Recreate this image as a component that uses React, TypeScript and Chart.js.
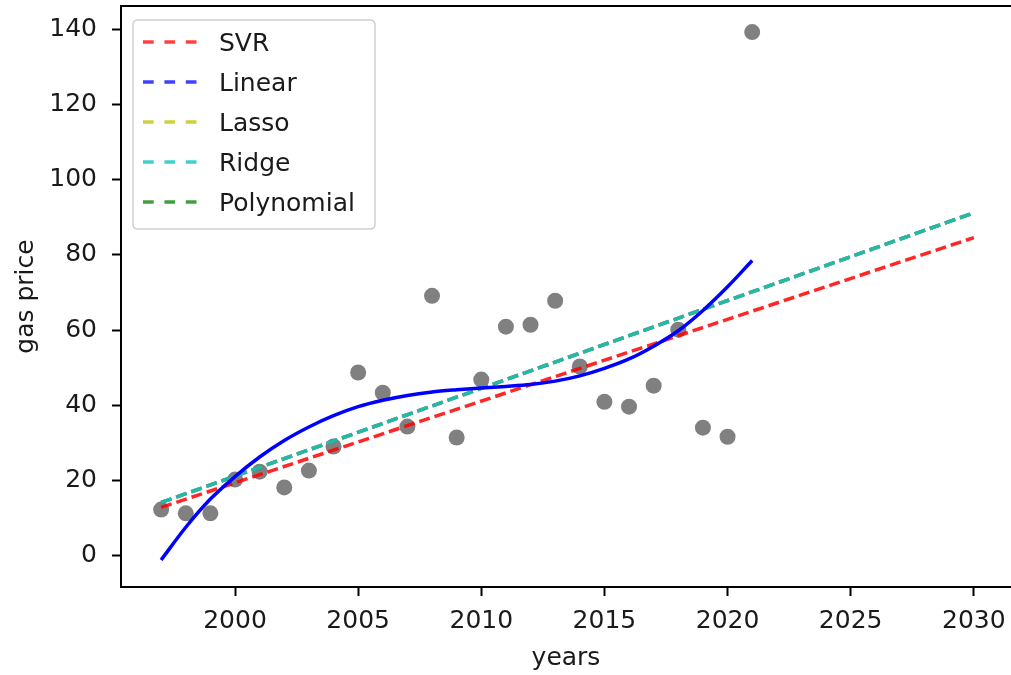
import React, { useEffect, useRef } from "react";
import { Chart, registerables } from "chart.js";

Chart.register(...registerables);

const years = [1997, 1998, 1999, 2000, 2001, 2002, 2003, 2004, 2005, 2006, 2007, 2008, 2009, 2010, 2011, 2012, 2013, 2014, 2015, 2016, 2017, 2018, 2019, 2020, 2021];
const gasPrice = [12.2, 11.2, 11.2, 20.2, 22.3, 18.1, 22.6, 29.0, 48.7, 43.3, 34.3, 69.1, 31.4, 46.8, 60.9, 61.4, 67.8, 50.3, 40.9, 39.6, 45.2, 60.1, 34.0, 31.6, 139.3];
const polyCurve = [-1.2, 7.5, 15.0, 21.0, 26.2, 30.6, 34.2, 37.2, 39.6, 41.3, 42.6, 43.5, 44.1, 44.6, 45.0, 45.5, 46.4, 47.8, 49.8, 52.3, 55.7, 59.8, 65.2, 71.5, 78.5];
const predYears = [1997, 2030];
const svrPred = [12.8, 84.6];
const linearPred = [14.1, 91.2];
const lassoPred = [14.1, 91.2];
const ridgePred = [14.1, 91.2];
const polyPred: number[] = [];
const xTicks = [2000, 2005, 2010, 2015, 2020, 2025, 2030];
const yTicks = [0, 20, 40, 60, 80, 100, 120, 140];

const legendItems = [
  { label: "SVR", color: "rgba(255,0,0,0.75)" },
  { label: "Linear", color: "rgba(0,0,255,0.75)" },
  { label: "Lasso", color: "rgba(191,191,0,0.75)" },
  { label: "Ridge", color: "rgba(0,191,191,0.75)" },
  { label: "Polynomial", color: "rgba(0,128,0,0.75)" },
];

const FONT = "'DejaVu Sans', sans-serif";

const pts = (xs: number[], ys: number[]) => ys.map((y, i) => ({ x: xs[i], y }));

const framePlugin = {
  id: "frameAndLegend",
  afterDraw(chart: any) {
    const { ctx, chartArea } = chart;
    ctx.save();
    ctx.strokeStyle = "#000";
    ctx.lineWidth = 2;
    ctx.beginPath();
    ctx.moveTo(chartArea.left - 1, chartArea.top);
    ctx.lineTo(chartArea.right, chartArea.top);
    ctx.stroke();
    const lx = chartArea.left + 12;
    const ly = chartArea.top + 14;
    const lw = 242;
    const lh = 209;
    const r = 5;
    ctx.beginPath();
    ctx.moveTo(lx + r, ly);
    ctx.lineTo(lx + lw - r, ly);
    ctx.quadraticCurveTo(lx + lw, ly, lx + lw, ly + r);
    ctx.lineTo(lx + lw, ly + lh - r);
    ctx.quadraticCurveTo(lx + lw, ly + lh, lx + lw - r, ly + lh);
    ctx.lineTo(lx + r, ly + lh);
    ctx.quadraticCurveTo(lx, ly + lh, lx, ly + lh - r);
    ctx.lineTo(lx, ly + r);
    ctx.quadraticCurveTo(lx, ly, lx + r, ly);
    ctx.closePath();
    ctx.fillStyle = "rgba(255,255,255,0.8)";
    ctx.fill();
    ctx.strokeStyle = "#d0d0d0";
    ctx.lineWidth = 1.5;
    ctx.stroke();
    ctx.font = `25px ${FONT}`;
    ctx.textBaseline = "middle";
    ctx.textAlign = "left";
    legendItems.forEach((it, i) => {
      const cy = ly + 22 + i * 40;
      ctx.strokeStyle = it.color;
      ctx.lineWidth = 3.5;
      ctx.setLineDash([10.7, 10.7]);
      ctx.beginPath();
      ctx.moveTo(lx + 10, cy);
      ctx.lineTo(lx + 64, cy);
      ctx.stroke();
      ctx.setLineDash([]);
      ctx.fillStyle = "#1a1a1a";
      ctx.fillText(it.label, lx + 86, cy + 2);
    });
    ctx.restore();
  },
};

const zeroPad = (s: any) => {
  s.paddingLeft = 0;
  s.paddingRight = 0;
  s.paddingTop = 0;
  s.paddingBottom = 0;
};

export default function App() {
  const ref = useRef<HTMLCanvasElement | null>(null);
  useEffect(() => {
    if (!ref.current) return;
    const dashed = (label: string, data: number[], color: string, order: number) => ({
      type: "line" as const,
      label,
      data: pts(predYears, data),
      borderColor: color,
      backgroundColor: color,
      borderWidth: 3.5,
      borderDash: [11, 5],
      pointRadius: 0,
      showLine: true,
      fill: false,
      order,
    });
    const chart = new Chart(ref.current, {
      type: "scatter",
      data: {
        datasets: [
          {
            type: "scatter" as const,
            label: "gas price",
            data: pts(years, gasPrice),
            backgroundColor: "#808080",
            borderColor: "#808080",
            pointRadius: 8,
            pointBorderWidth: 0,
            order: 10,
          } as any,
          dashed("SVR", svrPred, "rgba(255,0,0,0.85)", 5),
          dashed("Linear", linearPred, "rgba(0,0,255,0.8)", 4),
          dashed("Lasso", lassoPred, "rgba(191,191,0,0.8)", 3),
          dashed("Ridge", ridgePred, "rgba(0,191,191,0.8)", 2),
          dashed("Polynomial", polyPred, "rgba(0,128,0,0.8)", 1),
          {
            type: "line" as const,
            label: "poly fit",
            data: pts(years, polyCurve),
            borderColor: "#0000ff",
            borderWidth: 3.5,
            pointRadius: 0,
            cubicInterpolationMode: "monotone",
            fill: false,
            order: 0,
          } as any,
        ],
      },
      options: {
        animation: false,
        responsive: false,
        maintainAspectRatio: false,
        layout: { autoPadding: false, padding: { top: 6, right: 0, left: 0, bottom: 0 } },
        plugins: {
          legend: { display: false },
          tooltip: { enabled: false },
        },
        scales: {
          x: {
            type: "linear",
            min: 1995.37,
            max: 2031.51,
            afterBuildTicks: (s: any) => {
              s.ticks = xTicks.map((v) => ({ value: v }));
            },
            afterFit: (s: any) => {
              s.height = 88;
              zeroPad(s);
            },
            grid: {
              display: true,
              drawOnChartArea: false,
              drawTicks: true,
              tickLength: 9,
              tickWidth: 2,
              tickColor: "#000",
            },
            border: { display: true, color: "#000", width: 2 },
            ticks: {
              font: { family: FONT, size: 25 },
              color: "#1a1a1a",
              padding: 10,
              maxRotation: 0,
              autoSkip: false,
              callback: (v: any) => String(v),
            },
            title: {
              display: true,
              text: "years",
              font: { family: FONT, size: 25 },
              color: "#1a1a1a",
              padding: { top: 0, bottom: 2 },
            },
          },
          y: {
            type: "linear",
            min: -8.4,
            max: 146.25,
            afterBuildTicks: (s: any) => {
              s.ticks = yTicks.map((v) => ({ value: v }));
            },
            afterFit: (s: any) => {
              s.width = 121;
              zeroPad(s);
            },
            grid: {
              display: true,
              drawOnChartArea: false,
              drawTicks: true,
              tickLength: 9,
              tickWidth: 2,
              tickColor: "#000",
            },
            border: { display: true, color: "#000", width: 2 },
            ticks: {
              font: { family: FONT, size: 25 },
              color: "#1a1a1a",
              padding: 15,
              autoSkip: false,
              callback: (v: any) => String(v),
            },
            title: {
              display: true,
              text: "gas price",
              font: { family: FONT, size: 25 },
              color: "#1a1a1a",
              padding: { top: 11, bottom: 0 },
            },
          },
        },
      },
      plugins: [framePlugin],
    } as any);
    return () => chart.destroy();
  }, []);
  return (
    <div style={{ position: "fixed", left: 0, top: 0, width: 1011, height: 675, background: "#fff" }}>
      <canvas ref={ref} width={1011} height={675} style={{ width: 1011, height: 675, display: "block" }} />
    </div>
  );
}
